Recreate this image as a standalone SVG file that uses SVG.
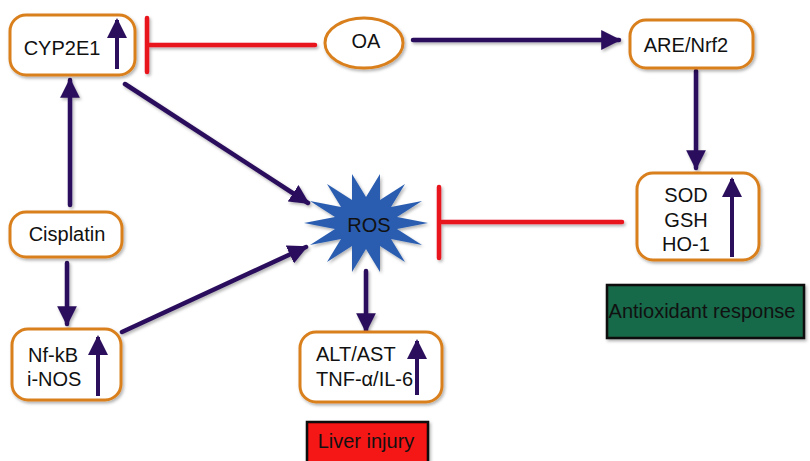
<svg xmlns="http://www.w3.org/2000/svg" width="810" height="461" viewBox="0 0 810 461">
  <style>
    .node { fill: #ffffff; stroke: #d9801f; stroke-width: 3; }
    .lbl { font-family: "Liberation Sans", Arial, sans-serif; font-size: 20px; fill: #111111; }
    .act { stroke: #2b0f5c; stroke-width: 4.5; fill: none; stroke-linecap: round; }
    .inner { stroke: #2b0f5c; stroke-width: 4; fill: none; }
    .inh { stroke: #e8171b; stroke-width: 4.5; fill: none; stroke-linecap: round; }
  </style>
  <defs>
    <filter id="sh" x="-20%" y="-20%" width="140%" height="140%">
      <feDropShadow dx="1.5" dy="2" stdDeviation="1.5" flood-color="#000" flood-opacity="0.3"/>
    </filter>
    <marker id="ah" viewBox="0 0 10 10" refX="9" refY="5" markerWidth="4.4" markerHeight="4.4" orient="auto" markerUnits="strokeWidth">
      <path d="M0,0 L10,5 L0,10 z" fill="#2b0f5c"/>
    </marker>
    <marker id="ahs" viewBox="0 0 10 10" refX="9" refY="5" markerWidth="5" markerHeight="5" orient="auto" markerUnits="strokeWidth">
      <path d="M0,0 L10,5 L0,10 z" fill="#2b0f5c"/>
    </marker>
  </defs>
  <rect width="810" height="461" fill="#ffffff"/>

  <g id="connectors" filter="url(#sh)">
    <!-- OA inhibits CYP2E1 -->
    <line class="inh" x1="315" y1="45" x2="148" y2="45"/>
    <line class="inh" x1="147" y1="18" x2="147" y2="72"/>
    <!-- OA -> ARE/Nrf2 -->
    <line class="act" x1="413" y1="40" x2="619" y2="40" marker-end="url(#ah)"/>
    <!-- ARE/Nrf2 -> SOD -->
    <line class="act" x1="696" y1="71" x2="696" y2="168" marker-end="url(#ah)"/>
    <!-- SOD inhibits ROS -->
    <line class="inh" x1="622" y1="222" x2="440" y2="222"/>
    <line class="inh" x1="439" y1="187" x2="439" y2="258"/>
    <!-- Cisplatin -> CYP2E1 -->
    <line class="act" x1="70" y1="205" x2="70" y2="80" marker-end="url(#ah)"/>
    <!-- Cisplatin -> Nf-kB -->
    <line class="act" x1="67" y1="263" x2="67" y2="324" marker-end="url(#ah)"/>
    <!-- CYP2E1 -> ROS -->
    <line class="act" x1="125" y1="84" x2="308" y2="203" marker-end="url(#ah)"/>
    <!-- Nf-kB -> ROS -->
    <line class="act" x1="122" y1="332" x2="306" y2="247" marker-end="url(#ah)"/>
    <!-- ROS -> ALT -->
    <line class="act" x1="366" y1="271" x2="366" y2="331" marker-end="url(#ah)"/>
  </g>

  <g id="CYP2E1">
    <rect class="node" x="10" y="15" width="125" height="60" rx="16" filter="url(#sh)"/>
    <text class="lbl" x="62" y="55" text-anchor="middle">CYP2E1</text>
    <line class="inner" x1="117" y1="69" x2="117" y2="20" marker-end="url(#ahs)"/>
  </g>

  <g id="OA">
    <ellipse class="node" cx="364" cy="43" rx="39" ry="25" filter="url(#sh)"/>
    <text class="lbl" x="366" y="48" text-anchor="middle">OA</text>
  </g>

  <g id="ARE-Nrf2">
    <rect class="node" x="630" y="20" width="123" height="48" rx="16" filter="url(#sh)"/>
    <text class="lbl" x="686" y="52" text-anchor="middle">ARE/Nrf2</text>
  </g>

  <g id="SOD-GSH-HO1">
    <rect class="node" x="637" y="173" width="122" height="87" rx="16" filter="url(#sh)"/>
    <text class="lbl" x="686" y="202" text-anchor="middle">SOD</text>
    <text class="lbl" x="686" y="227" text-anchor="middle">GSH</text>
    <text class="lbl" x="686" y="251" text-anchor="middle">HO-1</text>
    <line class="inner" x1="732" y1="257" x2="732" y2="179" marker-end="url(#ahs)"/>
  </g>

  <g id="Antioxidant-response">
    <rect x="607" y="285" width="197" height="53" fill="#17694a" stroke="#0a0a0a" stroke-width="2.5" filter="url(#sh)"/>
    <text class="lbl" x="702" y="318" text-anchor="middle">Antioxidant response</text>
  </g>

  <g id="ROS">
    <polygon fill="#2a5db0" filter="url(#sh)" points="428,223 397,229 422,245 391,239 405,262 380,246 380,272 366,249 352,272 352,246 327,262 341,239 310,245 335,229 304,223 335,217 310,201 341,207 327,184 352,200 352,174 366,197 380,174 380,200 405,184 391,207 422,201 397,217"/>
    <text class="lbl" x="369" y="232" text-anchor="middle">ROS</text>
  </g>

  <g id="Cisplatin">
    <rect class="node" x="10" y="212" width="112" height="45" rx="16" filter="url(#sh)"/>
    <text class="lbl" x="67" y="241" text-anchor="middle">Cisplatin</text>
  </g>

  <g id="NfkB-iNOS">
    <rect class="node" x="12" y="329" width="109" height="71" rx="16" filter="url(#sh)"/>
    <text class="lbl" x="28" y="362">Nf-kB</text>
    <text class="lbl" x="27" y="386">i-NOS</text>
    <line class="inner" x1="98" y1="396" x2="98" y2="337" marker-end="url(#ahs)"/>
  </g>

  <g id="ALT-AST">
    <rect class="node" x="300" y="332" width="142" height="70" rx="16" filter="url(#sh)"/>
    <text class="lbl" x="316" y="361">ALT/AST</text>
    <text class="lbl" x="316" y="386">TNF-α/IL-6</text>
    <line class="inner" x1="417" y1="395" x2="417" y2="341" marker-end="url(#ahs)"/>
  </g>

  <g id="Liver-injury">
    <rect x="307" y="422" width="121" height="45" fill="#f51414" stroke="#0a0a0a" stroke-width="2.5" filter="url(#sh)"/>
    <text class="lbl" x="366" y="448" text-anchor="middle" fill="#330000">Liver injury</text>
  </g>
</svg>
